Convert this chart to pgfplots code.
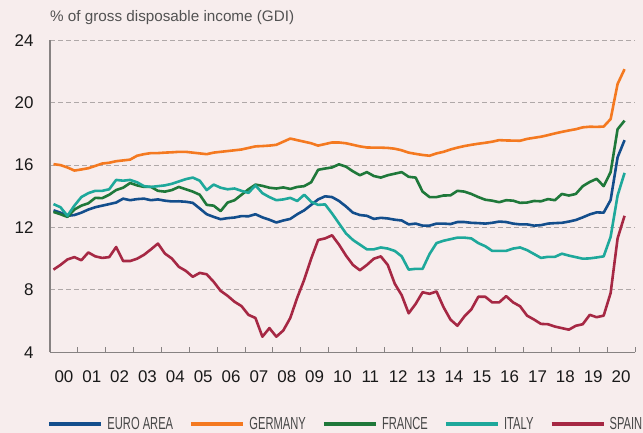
\documentclass[border=0pt]{standalone}
\usepackage{fontspec}
\setmainfont{Liberation Sans}
\newfontfamily\condfont[FakeStretch=0.64]{Liberation Sans}
\usepackage{pgfplots}
\usepackage{pgfplotstable}
\pgfplotsset{compat=1.18}
\definecolor{bgc}{RGB}{247,237,237}
\definecolor{ea}{RGB}{19,78,140}
\definecolor{de}{RGB}{244,121,32}
\definecolor{fr}{RGB}{31,120,58}
\definecolor{it}{RGB}{30,168,155}
\definecolor{es}{RGB}{166,40,68}
\definecolor{gridc}{RGB}{175,168,168}
\definecolor{axc}{RGB}{135,130,130}
\pgfplotstableread{
k EA DE FR IT ES
0 13.10 16.06 13.00 13.50 9.30
1 12.95 16.00 12.85 13.30 9.60
2 12.75 15.85 12.68 12.75 9.95
3 12.80 15.65 13.15 13.40 10.10
4 12.95 15.72 13.40 13.95 9.90
5 13.15 15.80 13.55 14.20 10.40
6 13.30 15.95 13.90 14.35 10.15
7 13.40 16.10 13.88 14.35 10.05
8 13.50 16.15 14.10 14.45 10.10
9 13.60 16.25 14.40 15.05 10.75
10 13.85 16.30 14.55 15.00 9.85
11 13.75 16.35 14.85 15.05 9.85
12 13.82 16.60 14.70 14.90 10.00
13 13.85 16.70 14.60 14.65 10.25
14 13.75 16.77 14.60 14.60 10.60
15 13.80 16.77 14.35 14.65 10.97
16 13.72 16.80 14.30 14.70 10.33
17 13.67 16.82 14.40 14.80 10.01
18 13.68 16.85 14.60 14.95 9.48
19 13.65 16.85 14.45 15.10 9.22
20 13.58 16.80 14.30 15.20 8.84
21 13.22 16.75 14.10 15.00 9.09
22 12.85 16.70 13.45 14.40 9.00
23 12.68 16.80 13.40 14.75 8.52
24 12.53 16.85 13.05 14.55 7.94
25 12.60 16.90 13.60 14.45 7.62
26 12.64 16.95 13.75 14.50 7.24
27 12.73 17.00 14.10 14.35 6.96
28 12.72 17.10 14.45 14.22 6.40
29 12.85 17.20 14.75 14.70 6.20
30 12.65 17.22 14.67 14.20 5.00
31 12.50 17.25 14.55 13.95 5.55
32 12.32 17.30 14.50 13.75 5.00
33 12.45 17.50 14.57 13.80 5.40
34 12.55 17.70 14.47 13.90 6.20
35 12.85 17.60 14.60 13.70 7.50
36 13.10 17.50 14.65 14.10 8.65
37 13.45 17.40 14.90 13.65 10.00
38 13.80 17.25 15.70 13.45 11.20
39 14.00 17.35 15.78 13.48 11.30
40 13.95 17.45 15.85 12.90 11.50
41 13.70 17.45 16.05 12.26 10.90
42 13.35 17.40 15.90 11.62 10.20
43 12.95 17.30 15.60 11.20 9.60
44 12.80 17.20 15.35 10.90 9.26
45 12.75 17.13 15.55 10.60 9.60
46 12.55 17.12 15.30 10.60 10.00
47 12.62 17.12 15.20 10.72 10.15
48 12.58 17.10 15.35 10.65 9.60
49 12.50 17.05 15.45 10.50 8.40
50 12.45 16.95 15.55 10.15 7.66
51 12.20 16.80 15.25 9.30 6.50
52 12.25 16.72 15.20 9.35 7.10
53 12.12 16.65 14.30 9.35 7.85
54 12.12 16.60 13.95 10.30 7.75
55 12.25 16.75 13.95 11.00 7.90
56 12.25 16.85 14.05 11.15 6.90
57 12.22 17.00 14.06 11.25 6.10
58 12.35 17.12 14.35 11.35 5.70
59 12.35 17.22 14.30 11.35 6.30
60 12.30 17.30 14.15 11.30 6.75
61 12.28 17.37 13.95 11.00 7.56
62 12.25 17.43 13.78 10.80 7.56
63 12.30 17.50 13.72 10.50 7.20
64 12.38 17.60 13.62 10.50 7.20
65 12.35 17.58 13.75 10.50 7.60
66 12.25 17.57 13.72 10.65 7.20
67 12.20 17.56 13.58 10.72 6.95
68 12.20 17.68 13.60 10.55 6.35
69 12.12 17.75 13.70 10.30 6.10
70 12.15 17.82 13.68 10.05 5.82
71 12.25 17.92 13.82 10.12 5.80
72 12.28 18.03 13.75 10.12 5.65
73 12.30 18.13 14.15 10.32 5.55
74 12.38 18.22 14.05 10.20 5.45
75 12.48 18.30 14.15 10.10 5.70
76 12.65 18.42 14.65 10.00 5.80
77 12.84 18.46 14.92 10.02 6.40
78 12.97 18.45 15.12 10.08 6.25
79 12.95 18.47 14.65 10.15 6.35
80 13.76 18.95 15.55 11.40 7.80
81 16.50 21.20 18.30 14.05 11.30
82 17.60 22.15 18.85 15.50 12.75
}\datatable
\begin{document}
\begin{tikzpicture}
\useasboundingbox (0,0) rectangle (643bp,433bp);
\fill[bgc] (0,0) rectangle (643bp,433bp);
\begin{axis}[
  at={(50bp,80.7bp)}, anchor=south west,
  width=585bp, height=312bp, scale only axis,
  xmin=-0.5, xmax=83.5, ymin=4, ymax=24,
  axis x line*=bottom, axis y line*=left,
  axis line style={draw=axc, line width=1.2bp},
  xtick={1.5,5.5,...,81.5},
  xticklabels={00,01,02,03,04,05,06,07,08,09,10,11,12,13,14,15,16,17,18,19,20},
  minor xtick={-0.5,3.5,...,83.5},
  major x tick style={draw=none},
  minor x tick style={draw=axc, line width=1bp},
  minor tick length=5bp,
  xtick align=inside,
  ytick={4,8,...,24},
  ytick style={draw=none},
  ymajorgrids,
  major grid style={draw=gridc, dash pattern=on 4.5bp off 3.5bp, line width=0.9bp},
  /pgf/number format/assume math mode=true,
  tick label style={font=\fontsize{17}{20}\selectfont, text=black!90},
  xticklabel style={yshift=-15bp},
  yticklabel style={xshift=-13bp},
  title={\% of gross disposable income (GDI)},
  title style={at={(0,1)}, anchor=base west, inner sep=0pt, yshift=13bp,
    font=\fontsize{15.3}{18}\selectfont, text=black!68},
  legend columns=5,
  legend style={at={(-0.005,-0.2298)}, anchor=west, draw=none, fill=none,
    inner sep=0pt, font=\condfont\fontsize{17.5}{20}\selectfont, text=black!72,
    nodes={inner xsep=0pt, inner ysep=1bp},
    /tikz/every odd column/.append style={column sep=4bp},
    /tikz/every even column/.append style={column sep=16bp}},
  legend image code/.code={\draw[#1, line width=4.2bp] (0bp,0bp) -- (52bp,0bp);},
  every axis plot/.append style={line width=2.6bp, line join=round},
]
\addplot[ea] table[x=k,y=EA] {\datatable};
\addlegendentry{EURO AREA}
\addplot[de] table[x=k,y=DE] {\datatable};
\addlegendentry{GERMANY}
\addplot[fr] table[x=k,y=FR] {\datatable};
\addlegendentry{FRANCE}
\addplot[it] table[x=k,y=IT] {\datatable};
\addlegendentry{ITALY}
\addplot[es] table[x=k,y=ES] {\datatable};
\addlegendentry{SPAIN}
\end{axis}
\end{tikzpicture}
\end{document}
